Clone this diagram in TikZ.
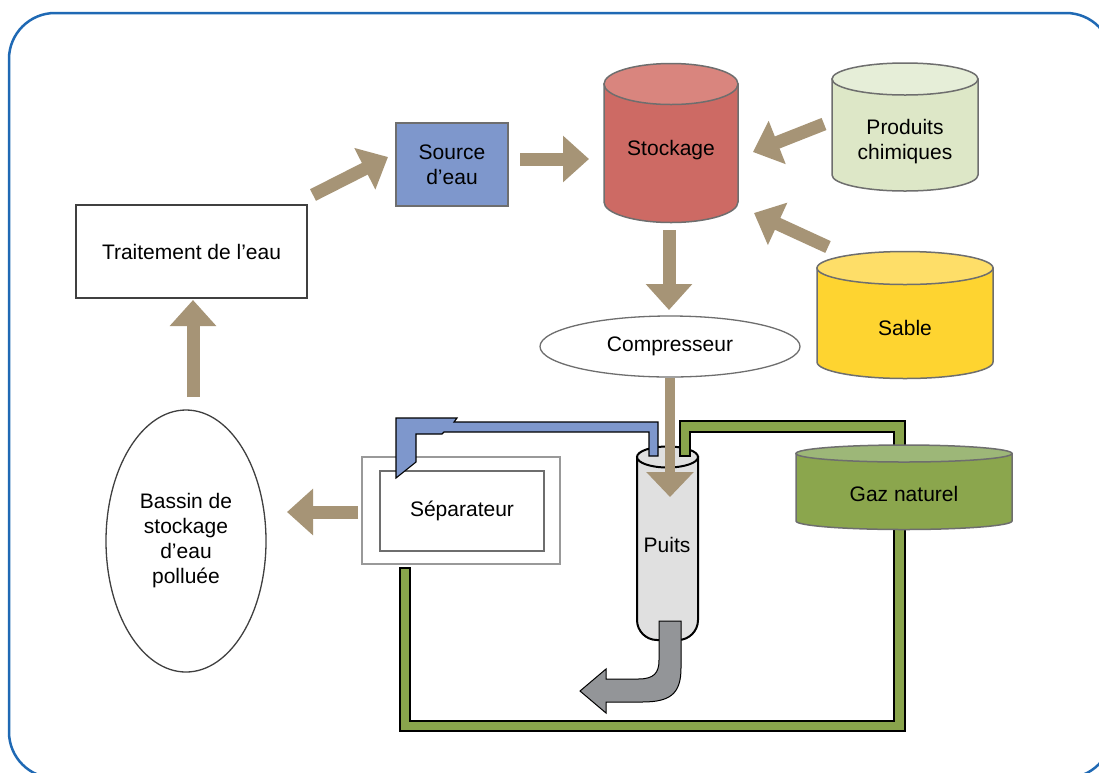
\documentclass[tikz,border=0pt]{standalone}
\usepackage{fontspec}
\setmainfont{Liberation Sans}
\usetikzlibrary{arrows.meta,calc,shapes.geometric}

\definecolor{frameblue}{RGB}{31,105,180}
\definecolor{flowtan}{RGB}{166,148,118}
\definecolor{waterblue}{RGB}{126,151,204}
\definecolor{stockbody}{RGB}{205,106,100}
\definecolor{stocktop}{RGB}{217,133,126}
\definecolor{chembody}{RGB}{221,231,199}
\definecolor{chemtop}{RGB}{230,238,216}
\definecolor{sandbody}{RGB}{254,212,48}
\definecolor{sandtop}{RGB}{254,222,104}
\definecolor{gasbody}{RGB}{139,166,77}
\definecolor{gastop}{RGB}{157,183,120}
\definecolor{pipegreen}{RGB}{137,164,76}
\definecolor{wellgray}{RGB}{224,224,224}
\definecolor{outgray}{RGB}{147,149,152}
\definecolor{edgegray}{RGB}{110,110,110}

\tikzset{
  label/.style={font=\fontsize{21}{25}\selectfont, align=center, inner sep=0pt},
  boxnode/.style={label, rectangle, draw=edgegray, line width=1.3pt},
  ovalnode/.style={label, ellipse, draw=edgegray, line width=1.3pt, fill=white},
  tankline/.style={draw=edgegray, line width=1.5pt},
  pipeline/.style={draw=black, line width=1.1pt},
  flow/.style={draw=flowtan, line width=13pt, -{Triangle[width=45pt,length=26pt]}},
  thinflow/.style={draw=flowtan, line width=10pt, -{Triangle[width=46pt,length=25pt]}},
}

% storage tank: left x, right x, top centre y, bottom centre y, y radius, body colour, lid colour
\newcommand\tank[7]{%
  \pgfmathsetmacro\tankrx{(#2-#1)/2}%
  \pgfmathsetmacro\tankcx{(#1+#2)/2}%
  \filldraw[tankline,fill=#6] (#1,-#3) -- (#1,-#4)
     arc[start angle=180,end angle=360,x radius=\tankrx,y radius=#5] -- (#2,-#3) -- cycle;
  \filldraw[tankline,fill=#7] (\tankcx,-#3) ellipse[x radius=\tankrx,y radius=#5];
}

\begin{document}
\begin{tikzpicture}[x=1pt,y=1pt]
\useasboundingbox (0,0) rectangle (1099,-772);
\fill[white] (0,0) rectangle (1099,-772);

% outer frame
\draw[frameblue, line width=2.5pt, rounded corners=46pt] (9,-13) rectangle (1112,-778);

% boxes and ovals
\node[boxnode, draw=black!75, fill=white, minimum width=231pt, minimum height=93pt] (trait) at (191.5,-251.5) {Traitement de l’eau};
\node[boxnode, fill=waterblue, minimum width=112pt, minimum height=83pt] (source) at (452,-164.5) {Source\\d’eau};
\node[ovalnode, minimum width=260pt, minimum height=61pt] (comp) at (670,-346.5) {Compresseur};
\node[ovalnode, draw=black!75, minimum width=160pt, minimum height=262pt] (bassin) at (186,-541) {Bassin de\\stockage\\d’eau\\polluée};

% separator (double frame)
\draw[gray!80, line width=1.3pt, fill=white] (362,-457) rectangle (560,-564);
\node[boxnode, fill=white, minimum width=164pt, minimum height=80pt] (sep) at (462,-511) {Séparateur};

% tanks
\tank{604}{738}{84}{202}{20.5}{stockbody}{stocktop}
\node[label] (stock) at (671,-150) {Stockage};
\tank{832}{978}{79}{175}{16}{chembody}{chemtop}
\node[label] (prod) at (905,-142) {Produits\\chimiques};
\tank{817}{993}{268}{362}{16.5}{sandbody}{sandtop}
\node[label] (sable) at (905,-328) {Sable};

% well
\filldraw[draw=black, line width=2pt, fill=wellgray]
  (637,-457) -- (637,-620) arc[start angle=180,end angle=270,radius=20]
  -- (678,-640) arc[start angle=270,end angle=360,radius=20] -- (698,-457) -- cycle;
\filldraw[draw=black, line width=2pt, fill=wellgray] (667.5,-457) ellipse[x radius=30.5,y radius=10.5];
\node[label] (puits) at (667,-545) {Puits};

% gas return loop
\filldraw[pipeline, fill=pipegreen]
  (400,-568) -- (400,-731) -- (905,-731) -- (905,-421) -- (680,-421) -- (680,-456)
  -- (690,-456) -- (690,-432) -- (894,-432) -- (894,-721) -- (410,-721) -- (410,-568) -- cycle;
\tank{796}{1012}{453.5}{521}{8.5}{gasbody}{gastop}
\node[label] (gaz) at (904,-494) {Gaz naturel};

% water return pipe
\filldraw[pipeline, fill=waterblue]
  (396,-418) -- (457,-418) -- (454,-422) -- (658,-422) -- (658,-456) -- (649,-456)
  -- (649,-432) -- (444,-432) -- (442,-434) -- (416,-434) -- (416,-462) -- (396,-478) -- cycle;

% production outflow
\filldraw[draw=black, line width=1pt, fill=outgray]
  (659,-621) -- (681,-621) -- (681,-668) .. controls (681,-694) and (670,-702) .. (642,-702)
  -- (606,-702) -- (606,-713) -- (580,-691) -- (606,-669) -- (606,-679) -- (638,-679)
  .. controls (654,-679) and (659,-673) .. (659,-660) -- cycle;

% process flow arrows
\draw[flow] ($(trait)+(121.5,56.5)$) -- ($(source)+(-64,7.5)$);
\draw[flow] ($(source)+(68,5.5)$) -- ($(stock)+(-82,-9)$);
\draw[flow] ($(prod)+(-81,18)$) -- ($(stock)+(82,-2)$);
\draw[flow] ($(sable)+(-77,81)$) -- ($(stock)+(83,-63)$);
\draw[flow] ($(stock)+(-2,-80)$) -- ($(comp)+(-1,36.5)$);
\draw[thinflow] ($(comp)+(0,-31.5)$) -- ($(puits)+(3,48)$);
\draw[flow] ($(bassin)+(7,144)$) -- ($(trait)+(1.5,-48.5)$);
\draw[flow] ($(sep)+(-104,-1)$) -- ($(bassin)+(101,29)$);
\end{tikzpicture}
\end{document}
